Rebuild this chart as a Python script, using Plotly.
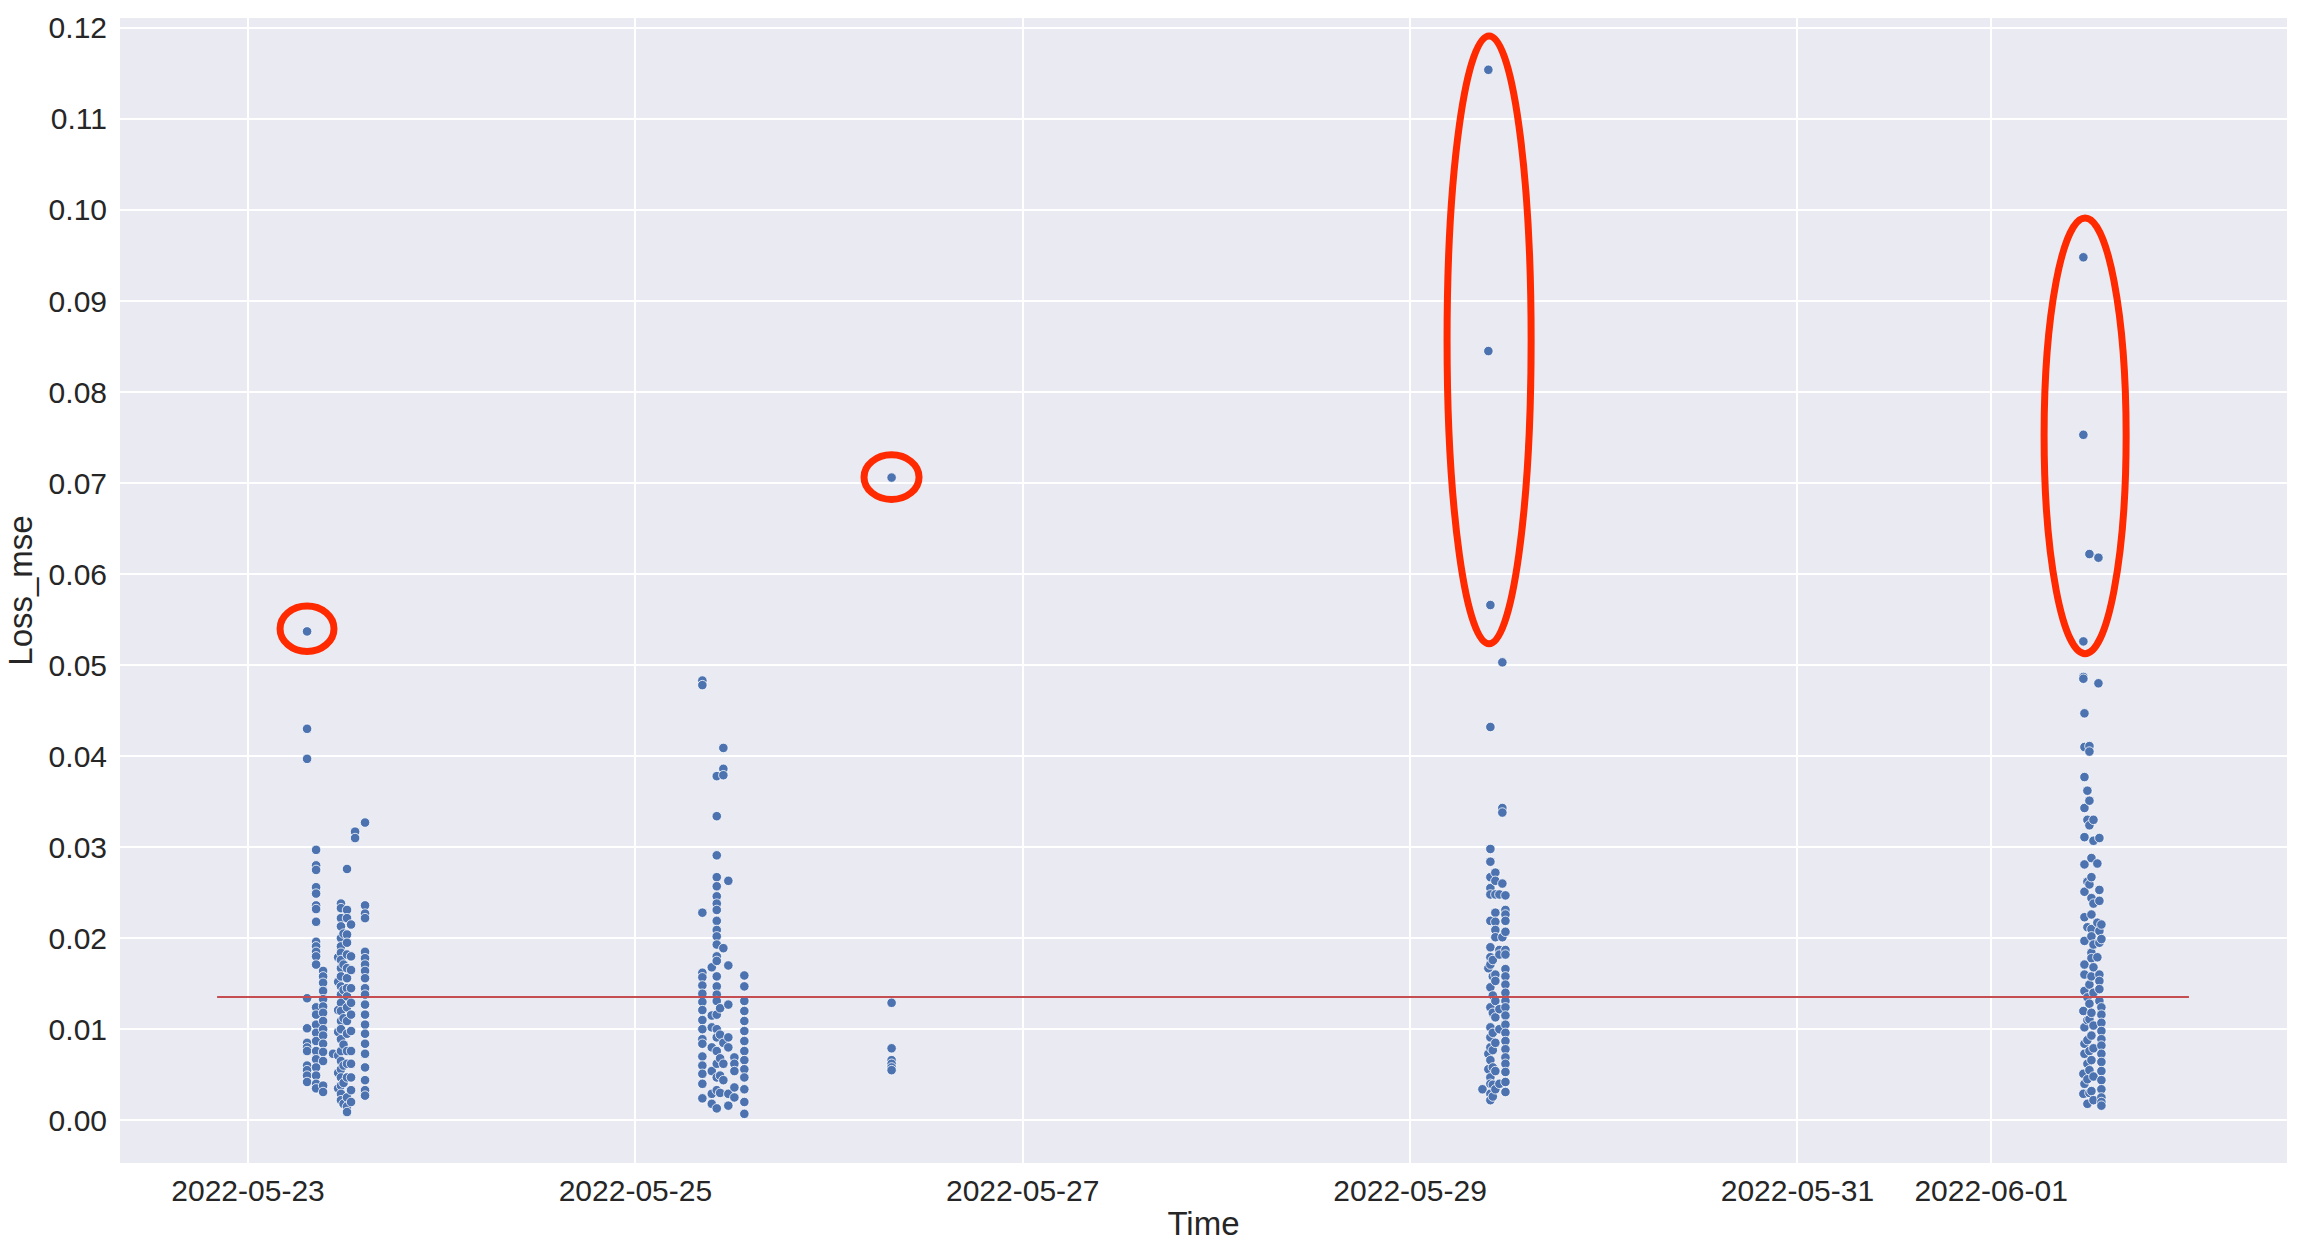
import plotly.graph_objects as go

# ---------------- data ----------------
c1_date = "2022-05-23"
c1_times = ["07:19", "08:26", "09:18", "10:32", "11:10", "11:31", "11:50", "12:16", "12:46", "13:16", "14:30"]
c1_values = [
    [0.0537, 0.0430, 0.0397, 0.0134, 0.0101, 0.0085, 0.0080, 0.0076, 0.0060, 0.0055, 0.0049, 0.0042],
    [0.0297, 0.0280, 0.0275, 0.0256, 0.0249, 0.0236, 0.0232, 0.0218, 0.0196, 0.0191, 0.0185, 0.0180,
     0.0171, 0.0124, 0.0116, 0.0105, 0.0096, 0.0087, 0.0076, 0.0067, 0.0058, 0.0049, 0.0040, 0.0035],
    [0.0164, 0.0158, 0.0151, 0.0142, 0.0133, 0.0125, 0.0118, 0.0109, 0.0100, 0.0093, 0.0084, 0.0075,
     0.0065, 0.0038, 0.0031],
    [0.0073],
    [0.0179, 0.0152, 0.0121, 0.0097, 0.0071, 0.0052, 0.0035],
    [0.0238, 0.0233, 0.0222, 0.0213, 0.0200, 0.0191, 0.0184, 0.0176, 0.0167, 0.0158, 0.0147, 0.0138,
     0.0129, 0.0120, 0.0109, 0.0100, 0.0089, 0.0076, 0.0065, 0.0056, 0.0047, 0.0038, 0.0029, 0.0022],
    [0.0205, 0.0171, 0.0143, 0.0112, 0.0083, 0.0060, 0.0041, 0.0018],
    [0.0276, 0.0231, 0.0222, 0.0204, 0.0195, 0.0182, 0.0167, 0.0156, 0.0145, 0.0136, 0.0124, 0.0109,
     0.0095, 0.0076, 0.0062, 0.0047, 0.0025, 0.0015, 0.0009],
    [0.0215, 0.0180, 0.0165, 0.0145, 0.0129, 0.0116, 0.0098, 0.0076, 0.0062, 0.0047, 0.0033, 0.0020],
    [0.0317, 0.0310],
    [0.0327, 0.0236, 0.0227, 0.0222, 0.0185, 0.0178, 0.0171, 0.0164, 0.0156, 0.0145, 0.0138, 0.0127,
     0.0116, 0.0105, 0.0095, 0.0084, 0.0073, 0.0058, 0.0044, 0.0033, 0.0027],
]

c2_date = "2022-05-25"
c2_times = ["08:18", "09:28", "10:05", "10:30", "10:54", "11:31", "12:16", "13:30"]
c2_values = [
    [0.0483, 0.0478, 0.0228, 0.0162, 0.0157, 0.0148, 0.0139, 0.0130, 0.0121, 0.0110, 0.0100, 0.0089,
     0.0084, 0.0070, 0.0060, 0.0051, 0.0040, 0.0024],
    [0.0168, 0.0115, 0.0102, 0.0080, 0.0054, 0.0029, 0.0018],
    [0.0378, 0.0334, 0.0291, 0.0267, 0.0257, 0.0246, 0.0238, 0.0231, 0.0219, 0.0209, 0.0202, 0.0193,
     0.0180, 0.0175, 0.0158, 0.0147, 0.0138, 0.0131, 0.0116, 0.0100, 0.0091, 0.0076, 0.0062, 0.0047,
     0.0033, 0.0013],
    [0.0123, 0.0094, 0.0068, 0.0049, 0.0030],
    [0.0409, 0.0386, 0.0379, 0.0189, 0.0085, 0.0062, 0.0044],
    [0.0263, 0.0170, 0.0127, 0.0091, 0.0080, 0.0029, 0.0016],
    [0.0069, 0.0062, 0.0054, 0.0036, 0.0025],
    [0.0159, 0.0147, 0.0131, 0.0120, 0.0109, 0.0098, 0.0087, 0.0076, 0.0066, 0.0056, 0.0047, 0.0034,
     0.0020, 0.0007],
]

c3_date = "2022-05-26"
c3_times = ["07:45"]
c3_values = [[0.0706, 0.0129, 0.0079, 0.0066, 0.0062, 0.0058, 0.0055]]

c4_date = "2022-05-29"
c4_times = ["08:58", "09:42", "09:57", "10:15", "10:34", "11:04", "11:26", "11:49"]
c4_values = [
    [0.0034],
    [0.1154, 0.0845, 0.0167, 0.0073, 0.0056],
    [0.0566, 0.0432, 0.0298, 0.0284, 0.0267, 0.0255, 0.0248, 0.0219, 0.0190, 0.0179, 0.0171, 0.0146,
     0.0124, 0.0102, 0.0091, 0.0080, 0.0066, 0.0047, 0.0040, 0.0029, 0.0022],
    [0.0176, 0.0158, 0.0137, 0.0118, 0.0096, 0.0077, 0.0058, 0.0039, 0.0026],
    [0.0272, 0.0263, 0.0248, 0.0228, 0.0218, 0.0209, 0.0201, 0.0160, 0.0153, 0.0131, 0.0113, 0.0085,
     0.0054, 0.0034],
    [0.0248, 0.0187, 0.0182, 0.0122, 0.0100, 0.0040],
    [0.0503, 0.0343, 0.0338, 0.0260, 0.0201],
    [0.0247, 0.0231, 0.0226, 0.0219, 0.0207, 0.0187, 0.0182, 0.0166, 0.0158, 0.0149, 0.0140, 0.0131,
     0.0124, 0.0115, 0.0105, 0.0096, 0.0087, 0.0078, 0.0069, 0.0062, 0.0053, 0.0042, 0.0031],
]

c5_date = "2022-06-01"
c5_times = ["11:26", "11:34", "11:56", "12:11", "12:26", "12:41", "13:10", "13:18", "13:25", "13:40"]
c5_values = [
    [0.0948, 0.0753, 0.0526, 0.0487, 0.0485, 0.0120, 0.0051, 0.0029],
    [0.0447, 0.0410, 0.0377, 0.0343, 0.0311, 0.0281, 0.0251, 0.0223, 0.0197, 0.0171, 0.0160, 0.0142,
     0.0102, 0.0084, 0.0073, 0.0040],
    [0.0362, 0.0330, 0.0262, 0.0212, 0.0135, 0.0110, 0.0088, 0.0062, 0.0045, 0.0018],
    [0.0622, 0.0411, 0.0405, 0.0351, 0.0324, 0.0259, 0.0149, 0.0128, 0.0111, 0.0076, 0.0055, 0.0030],
    [0.0288, 0.0267, 0.0244, 0.0226, 0.0210, 0.0202, 0.0184, 0.0178, 0.0158, 0.0118, 0.0093, 0.0066,
     0.0032],
    [0.0330, 0.0307, 0.0238, 0.0193, 0.0168, 0.0140, 0.0104, 0.0079, 0.0048, 0.0022],
    [0.0282, 0.0217, 0.0179],
    [0.0618, 0.0480],
    [0.0310, 0.0253, 0.0241, 0.0208, 0.0195, 0.0160, 0.0153, 0.0144, 0.0131],
    [0.0215, 0.0199, 0.0124, 0.0116, 0.0107, 0.0098, 0.0089, 0.0082, 0.0073, 0.0064, 0.0054, 0.0044,
     0.0034, 0.0025, 0.0020, 0.0016],
]

threshold = 0.01355
threshold_span = ["2022-05-22 20:10", "2022-06-02 00:31"]

x_ticks = ["2022-05-23", "2022-05-25", "2022-05-27", "2022-05-29", "2022-05-31", "2022-06-01"]
y_ticks = [0.00, 0.01, 0.02, 0.03, 0.04, 0.05, 0.06, 0.07, 0.08, 0.09, 0.10, 0.11, 0.12]

# highlighted outlier groups (annotation ellipses): x0, x1, y0, y1
ellipses = [
    ("2022-05-23 03:58", "2022-05-23 10:39", 0.0515, 0.0565),
    ("2022-05-26 04:20", "2022-05-26 11:09", 0.0682, 0.0731),
    ("2022-05-29 04:35", "2022-05-29 15:00", 0.05235, 0.1191),
    ("2022-06-01 06:34", "2022-06-01 16:44", 0.05126, 0.09913),
]

# ---------------- build ----------------
xs, ys = [], []
for date, times, values in [(c1_date, c1_times, c1_values), (c2_date, c2_times, c2_values),
                            (c3_date, c3_times, c3_values), (c4_date, c4_times, c4_values),
                            (c5_date, c5_times, c5_values)]:
    for t, vals in zip(times, values):
        for v in vals:
            xs.append(f"{date} {t}")
            ys.append(v)

fig = go.Figure()
fig.add_trace(go.Scatter(
    x=xs, y=ys, mode="markers",
    marker=dict(color="#4C72B0", size=9.5, line=dict(color="white", width=0.8)),
    hoverinfo="skip",
))
fig.add_trace(go.Scatter(
    x=threshold_span, y=[threshold, threshold], mode="lines",
    line=dict(color="#C44E52", width=2), hoverinfo="skip",
))

for x0, x1, y0, y1 in ellipses:
    fig.add_shape(type="circle", xref="x", yref="y", x0=x0, x1=x1, y0=y0, y1=y1,
                  line=dict(color="#FF2A00", width=7), layer="above")

font_family = "Liberation Sans, Arial, sans-serif"
fig.update_layout(
    width=2299, height=1253,
    margin=dict(l=120, r=12, t=11, b=90),
    plot_bgcolor="#EAEAF2", paper_bgcolor="white",
    showlegend=False,
    font=dict(family=font_family, color="#262626"),
)
fig.update_xaxes(
    type="date",
    range=["2022-05-22 08:08", "2022-06-02 12:40"],
    tickvals=x_ticks, ticktext=x_ticks,
    showgrid=True, gridcolor="white", gridwidth=1.5,
    zeroline=False, showline=False,
    ticks="outside", ticklen=1, tickcolor="rgba(0,0,0,0)",
    tickfont=dict(size=30, color="#262626"),
    title=dict(text="Time", font=dict(size=33, color="#262626"), standoff=5),
)
fig.update_yaxes(
    range=[-0.0047, 0.12109],
    tickvals=y_ticks, ticktext=[f"{v:.2f}" for v in y_ticks],
    showgrid=True, gridcolor="white", gridwidth=1.5,
    zeroline=False, showline=False,
    ticks="outside", ticklen=6, tickcolor="rgba(0,0,0,0)",
    tickfont=dict(size=30, color="#262626"),
    title=dict(text="Loss_mse", font=dict(size=33, color="#262626"), standoff=6),
)

fig.write_html("out.html", config={"displayModeBar": False},
               post_script="document.body.style.margin='0';document.body.style.overflow='hidden';")
